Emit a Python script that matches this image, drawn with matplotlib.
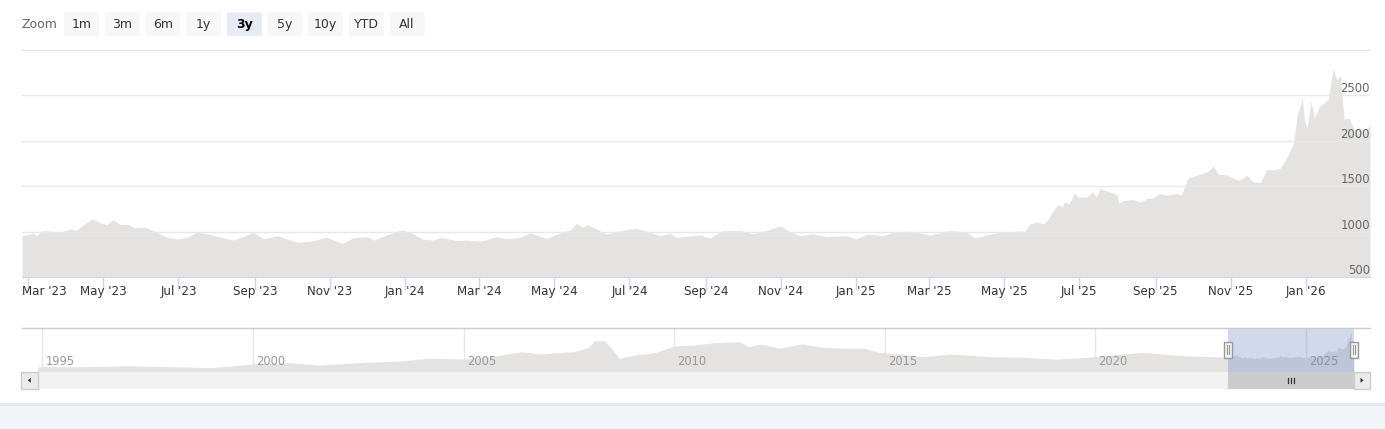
import numpy as np
import pandas as pd
import matplotlib
matplotlib.use("Agg")
import matplotlib.pyplot as plt
import matplotlib.dates as mdates
import matplotlib.transforms as mtransforms
from matplotlib.patches import Rectangle, FancyBboxPatch, Polygon

W, H = 1385, 429

# visible 3y window
dates = ["2023-02-24", "2023-03-05", "2023-03-08", "2023-03-13", "2023-03-27", "2023-04-05",
         "2023-04-09", "2023-04-14", "2023-04-22", "2023-04-29", "2023-05-04", "2023-05-09",
         "2023-05-15", "2023-05-21", "2023-05-27", "2023-06-04", "2023-06-13", "2023-06-22",
         "2023-06-30", "2023-07-08", "2023-07-16", "2023-07-25", "2023-08-03", "2023-08-14",
         "2023-08-22", "2023-08-31", "2023-09-08", "2023-09-19", "2023-09-30", "2023-10-06",
         "2023-10-18", "2023-10-29", "2023-11-11", "2023-11-19", "2023-12-01", "2023-12-07",
         "2023-12-17", "2023-12-29", "2024-01-07", "2024-01-15", "2024-01-23", "2024-01-31",
         "2024-02-12", "2024-02-20", "2024-03-02", "2024-03-15", "2024-03-23", "2024-04-03",
         "2024-04-11", "2024-04-25", "2024-05-05", "2024-05-14", "2024-05-19", "2024-05-24",
         "2024-05-28", "2024-06-04", "2024-06-12", "2024-06-25", "2024-07-06", "2024-07-15",
         "2024-07-26", "2024-08-03", "2024-08-08", "2024-08-27", "2024-09-04", "2024-09-15",
         "2024-09-29", "2024-10-09", "2024-10-20", "2024-10-31", "2024-11-08", "2024-11-16",
         "2024-11-27", "2024-12-08", "2024-12-24", "2025-01-01", "2025-01-10", "2025-01-23",
         "2025-01-31", "2025-02-14", "2025-03-02", "2025-03-18", "2025-04-01", "2025-04-07",
         "2025-04-17", "2025-04-28", "2025-05-10", "2025-05-18", "2025-05-22", "2025-05-28",
         "2025-06-02", "2025-06-06", "2025-06-10", "2025-06-14", "2025-06-17", "2025-06-19",
         "2025-06-23", "2025-06-27", "2025-06-30", "2025-07-07", "2025-07-12", "2025-07-15",
         "2025-07-18", "2025-07-26", "2025-08-01", "2025-08-02", "2025-08-06", "2025-08-14",
         "2025-08-20", "2025-08-25", "2025-08-30", "2025-09-04", "2025-09-10", "2025-09-18",
         "2025-09-22", "2025-09-27", "2025-10-01", "2025-10-07", "2025-10-13", "2025-10-18",
         "2025-10-22", "2025-10-29", "2025-11-03", "2025-11-08", "2025-11-14", "2025-11-19",
         "2025-11-25", "2025-11-30", "2025-12-05", "2025-12-11", "2025-12-17", "2025-12-22",
         "2025-12-25", "2025-12-28", "2025-12-29", "2025-12-31", "2026-01-02", "2026-01-05",
         "2026-01-08", "2026-01-12", "2026-01-16", "2026-01-19", "2026-01-23", "2026-01-26",
         "2026-01-29", "2026-02-01", "2026-02-05", "2026-02-09", "2026-02-14", "2026-02-18",
         "2026-02-22"]
values = [956, 981, 956, 1011, 993, 1030,
          1011, 1067, 1141, 1093, 1078, 1130,
          1078, 1078, 1041, 1048, 993, 937,
          919, 937, 993, 974, 944, 907,
          944, 993, 919, 956, 907, 881,
          900, 937, 870, 930, 944, 907,
          963, 1019, 981, 919, 907, 937,
          900, 907, 893, 944, 919, 937,
          985, 926, 981, 1019, 1093, 1048,
          1078, 1030, 974, 1011, 1037, 1004,
          956, 981, 937, 963, 930, 1011,
          1011, 974, 1011, 1063, 1004, 956,
          974, 944, 956, 919, 974, 956,
          993, 1004, 963, 1011, 993, 930,
          963, 993, 1004, 1004, 1085, 1104,
          1085, 1141, 1233, 1300, 1270, 1326,
          1307, 1426, 1381, 1381, 1437, 1381,
          1474, 1437, 1400, 1315, 1344, 1352,
          1326, 1363, 1370, 1419, 1400, 1419,
          1400, 1585, 1604, 1633, 1659, 1722,
          1633, 1622, 1585, 1567, 1622, 1548,
          1537, 1685, 1678, 1696, 1826, 1974,
          2289, 2419, 2474, 2215, 2141, 2437,
          2252, 2381, 2419, 2456, 2789, 2678,
          2715, 2233, 2252, 2122, 2141, 2104,
          2178]

# older history, only seen in the navigator
hist_dates = ["1994-11-21", "1995-01-02", "1996-01-05", "1997-01-03", "1998-01-02", "1999-01-01",
              "2000-01-15", "2000-11-15", "2001-07-30", "2002-09-12", "2003-06-25", "2004-03-10",
              "2004-12-15", "2005-09-27", "2006-05-18", "2006-11-07", "2007-04-30", "2007-08-21",
              "2007-12-20", "2008-02-10", "2008-05-08", "2008-07-06", "2008-09-13", "2009-01-22",
              "2009-07-13", "2010-01-04", "2010-06-25", "2010-12-16", "2011-07-13", "2011-10-08",
              "2012-01-30", "2012-06-25", "2013-01-12", "2013-07-02", "2014-01-19", "2014-07-09",
              "2014-11-07", "2015-05-26", "2015-11-14", "2016-07-23", "2017-07-05", "2018-04-16",
              "2019-01-27", "2019-12-13", "2020-08-28", "2021-02-20", "2021-08-11", "2022-04-02",
              "2022-11-14"]
hist_values = [267, 289, 290, 360, 290, 218,
               500, 575, 410, 603, 696, 889,
               839, 1053, 1360, 1196, 1317, 1360,
               1674, 2145, 2145, 1603, 889, 1124,
               1289, 1767, 1838, 2003, 2074, 1717,
               1910, 1603, 1910, 1674, 1603, 1603,
               1317, 1196, 1003, 1196, 1003, 960,
               817, 1003, 1196, 1317, 1174, 1053,
               1003]

buttons = ["1m", "3m", "6m", "1y", "3y", "5y", "10y", "YTD", "All"]
selected = "3y"

main_ticks = pd.date_range("2023-03-01", "2026-01-01", freq="2MS")
nav_ticks = pd.date_range("1995-01-01", "2025-01-01", freq="5YS")
y_labels = [500, 1000, 1500, 2000, 2500]
y_grid = [500, 1000, 1500, 2000, 2500, 3000]

AREA = "#e4e3e2"
AXIS = "#ccd6eb"


def box(x0, y0, x1, y1):
    # pixel box (top-left origin) -> figure fraction
    return [x0 / W, 1 - y1 / H, (x1 - x0) / W, (y1 - y0) / H]


d = pd.to_datetime(dates)
nd = pd.to_datetime(hist_dates + dates)
nv = hist_values + values

fig = plt.figure(figsize=(W / 100, H / 100), dpi=100)

# main chart
ax = fig.add_axes(box(22, 50, 1370, 277))
ax.fill_between(d, values, 0, color=AREA, lw=0, zorder=1)
for v in y_grid:
    ax.axhline(v, color="#e8e8e8", lw=1, zorder=2)
ax.set_xlim(d[0], d[-1])
ax.set_ylim(500, 3000)
for s in ["top", "left", "right"]:
    ax.spines[s].set_visible(False)
ax.spines["bottom"].set_color(AXIS)
ax.spines["bottom"].set_zorder(3)
ax.set_yticks([])
ax.set_xticks(main_ticks)
ax.set_xticklabels([t.strftime("%b '%y") for t in main_ticks])
ax.tick_params(axis="x", length=9, width=1, color=AXIS, labelsize=8.6,
               labelcolor="#333333", pad=-3.5)
first = ax.get_xticklabels()[0]
first.set_ha("left")
first.set_transform(first.get_transform() + mtransforms.ScaledTranslation(-6 / 100, 0, fig.dpi_scale_trans))

ylab_tr = mtransforms.offset_copy(ax.get_yaxis_transform(), fig=fig, x=0, y=3, units="dots")
for v in y_labels:
    ax.text(1, v, str(v), transform=ylab_tr, ha="right", va="baseline",
            fontsize=8.4, color="#666666", zorder=4)

# navigator
nav = fig.add_axes(box(37.7, 328.3, 1354, 371.7))
nav.fill_between(nd, nv, -1000, color=AREA, lw=0, zorder=2)
nav.set_xlim(nd[0], nd[-1])
nav.set_ylim(-68, 3031)
nav.set_axis_off()
nav_lab_tr = mtransforms.offset_copy(
    mtransforms.blended_transform_factory(nav.transData, nav.transAxes),
    fig=fig, x=3, y=6.5, units="dots")
for t in nav_ticks:
    nav.axvline(t, color="#e6e6e6", lw=1, zorder=1)
    nav.text(t, 0, str(t.year), transform=nav_lab_tr, ha="left", va="baseline",
             fontsize=8.3, color="#999999", zorder=3)
nav.axvspan(d[0], d[-1], color=(102 / 255, 133 / 255, 194 / 255), alpha=0.3, lw=0, zorder=4)

# overlay in pixel coords for the UI chrome
ov = fig.add_axes([0, 0, 1, 1])
ov.set_xlim(0, W)
ov.set_ylim(H, 0)
ov.set_axis_off()

x0 = nav.transData.transform((mdates.date2num(d[0]), 0))[0]
x1 = nav.transData.transform((mdates.date2num(d[-1]), 0))[0]

ov.plot([22, 1370], [328.3, 328.3], color="#cccccc", lw=1)

# scrollbar
ov.add_patch(Rectangle((37.7, 372), 1354 - 37.7, 16.5, fc="#f2f2f2", ec="none"))
ov.add_patch(Rectangle((x0, 372), x1 - x0, 16.5, fc="#cccccc", ec="none"))
cx = (x0 + x1) / 2
for dx in (-3, 0, 3):
    ov.plot([cx + dx, cx + dx], [377.5, 383], color="#333333", lw=0.9)
ov.add_patch(Rectangle((21, 372), 16.7, 16.5, fc="#ebebeb", ec="#cccccc", lw=1))
ov.add_patch(Polygon([(27.8, 380.3), (30.8, 377.8), (30.8, 382.8)], fc="#333333", ec="none"))
ov.add_patch(Rectangle((1354, 372), 16, 16.5, fc="#ebebeb", ec="#cccccc", lw=1))
ov.add_patch(Polygon([(1363.5, 380.3), (1360.5, 377.8), (1360.5, 382.8)], fc="#333333", ec="none"))

# navigator handles
for hx in (x0, x1):
    ov.add_patch(Rectangle((hx - 3.7, 341.5), 7.4, 16, fc="#f2f2f2", ec="#999999", lw=1))
    for dx in (-1, 1):
        ov.plot([hx + dx, hx + dx], [345, 354], color="#999999", lw=0.8)

# range selector
ov.text(22, 24.5, "Zoom", ha="left", va="center", fontsize=9, color="#666666")
for i, b in enumerate(buttons):
    bx = 64 + i * 40.7
    on = b == selected
    ov.add_patch(FancyBboxPatch((bx, 12.3), 35, 23.7, boxstyle="round,pad=0,rounding_size=2",
                                fc="#e6ebf5" if on else "#f7f7f7", ec="none"))
    ov.text(bx + 17.5, 24.5, b, ha="center", va="center", fontsize=9,
            color="#000000" if on else "#333333", fontweight="bold" if on else "normal")

# page background below the card
ov.add_patch(Rectangle((0, 403), W, 2.5, fc="#e6e9ed", ec="none"))
ov.add_patch(Rectangle((0, 405.5), W, 24, fc="#f1f4f8", ec="none"))

fig.savefig("out.png", dpi=100)
